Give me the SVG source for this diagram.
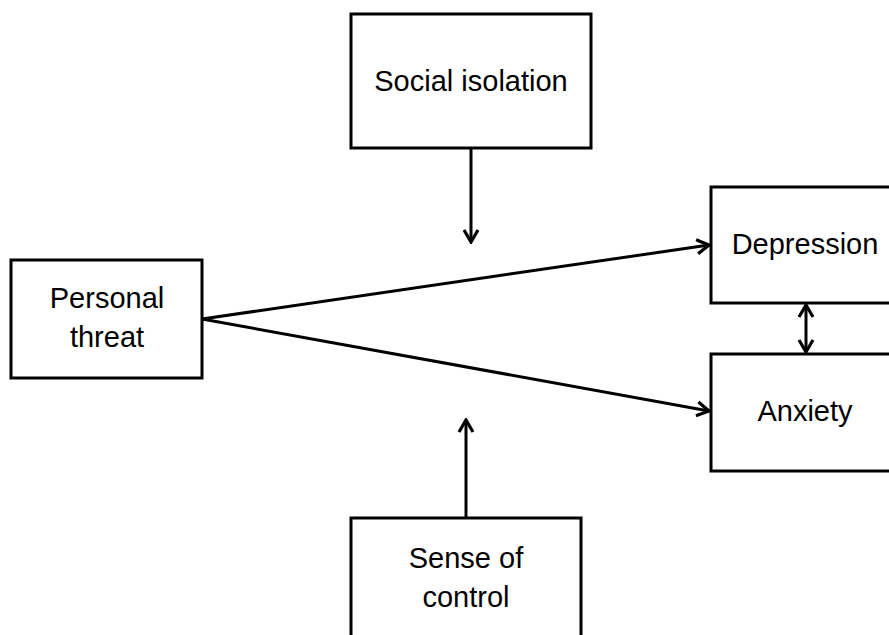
<svg xmlns="http://www.w3.org/2000/svg" width="889" height="635" viewBox="0 0 889 635">
  <style>
    .box { fill: #fff; stroke: #000; stroke-width: 3; }
    .lbl { font-family: "Liberation Sans", Arial, sans-serif; font-size: 29px; fill: #000; text-anchor: middle; }
    .edge { stroke: #000; stroke-width: 3; fill: none; }
  </style>
  <defs>
    <marker id="arr" viewBox="0 0 18 18" refX="16" refY="9" markerWidth="18" markerHeight="18" markerUnits="userSpaceOnUse" orient="auto-start-reverse">
      <path d="M4,2 L16,9 L4,16" fill="none" stroke="#000" stroke-width="3.2"/>
    </marker>
  </defs>
  <rect width="889" height="635" fill="#fff"/>

  <g id="social-isolation">
    <rect class="box" x="351" y="14" width="240" height="134"/>
    <text class="lbl" x="471" y="91">Social isolation</text>
  </g>

  <g id="personal-threat">
    <rect class="box" x="11" y="260" width="191" height="118"/>
    <text class="lbl" x="107" y="308">Personal</text>
    <text class="lbl" x="107" y="347">threat</text>
  </g>

  <g id="depression">
    <rect class="box" x="711" y="187" width="200" height="116"/>
    <text class="lbl" x="805" y="254">Depression</text>
  </g>

  <g id="anxiety">
    <rect class="box" x="711" y="354" width="200" height="117"/>
    <text class="lbl" x="805" y="421">Anxiety</text>
  </g>

  <g id="sense-of-control">
    <rect class="box" x="351" y="518" width="230" height="140"/>
    <text class="lbl" x="466" y="568">Sense of</text>
    <text class="lbl" x="466" y="607">control</text>
  </g>

  <g id="connectors">
    <line class="edge" x1="202" y1="319" x2="709" y2="245" marker-end="url(#arr)"/>
    <line class="edge" x1="202" y1="319" x2="709" y2="411" marker-end="url(#arr)"/>
    <line class="edge" x1="471" y1="148" x2="471" y2="242" marker-end="url(#arr)"/>
    <line class="edge" x1="466" y1="518" x2="466" y2="420" marker-end="url(#arr)"/>
    <line class="edge" x1="806" y1="305" x2="806" y2="352" marker-start="url(#arr)" marker-end="url(#arr)"/>
  </g>
</svg>
